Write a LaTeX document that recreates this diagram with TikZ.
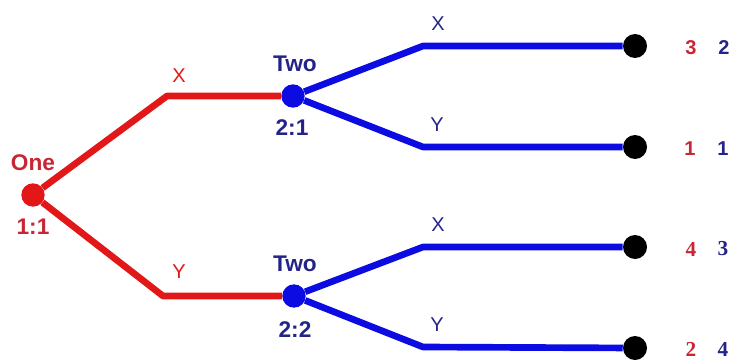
\documentclass[tikz,border=0pt]{standalone}
\usepackage{fontspec}
\setmainfont{Liberation Sans}
\newfontfamily\paynum{Liberation Serif}
\definecolor{oneRed}{RGB}{226,24,24}
\definecolor{oneText}{RGB}{200,38,52}
\definecolor{twoBlue}{RGB}{12,12,226}
\definecolor{twoText}{RGB}{36,36,136}
\begin{document}
\begin{tikzpicture}[x=0.75pt, y=-0.75pt,
  dec/.style={circle, inner sep=0pt, minimum size=17.5pt},
  leaf/.style={circle, fill=black, inner sep=0pt, minimum size=18pt},
  redmove/.style={draw=oneRed, line width=5pt, line join=round},
  bluemove/.style={draw=twoBlue, line width=5pt, line join=round},
  who/.style={font=\fontsize{17}{17}\selectfont\bfseries},
  act/.style={font=\fontsize{15}{15}\selectfont},
  pay/.style={font=\fontsize{15}{15}\selectfont\bfseries},
  paysf/.style={font=\fontsize{16}{16}\selectfont\paynum\bfseries},
]
  \useasboundingbox (0,0) rectangle (734,360);
  % decision nodes
  \node[dec, fill=oneRed] (one) at (33,195) {};
  \node[dec, fill=twoBlue] (twoX) at (293,96) {};
  \node[dec, fill=twoBlue] (twoY) at (294,296) {};
  \node[who, text=oneText] (oneName) at (33,163) {One};
  \node[who, text=oneText] (oneInfo) at (33,227) {1:1};
  \node[who, text=twoText] (twoXName) at (295,64) {Two};
  \node[who, text=twoText] (twoXInfo) at (292,128) {2:1};
  \node[who, text=twoText] (twoYName) at (295,264) {Two};
  \node[who, text=twoText] (twoYInfo) at (295,330) {2:2};
  % end points
  \node[leaf] (endXX) at (635,46) {};
  \node[leaf] (endXY) at (635,147) {};
  \node[leaf] (endYX) at (635,247) {};
  \node[leaf] (endYY) at (635,348) {};
  \coordinate (bendX) at (167,96);
  \coordinate (bendY) at (163,296);
  \coordinate (bendXX) at (423,46);
  \coordinate (bendXY) at (423,147);
  \coordinate (bendYX) at (423,247);
  \coordinate (bendYY) at (423,347);
  % moves of player one
  \draw[redmove] (one) -- (bendX) -- (twoX);
  \draw[redmove] (one) -- (bendY) -- (twoY);
  \node[act, text=oneRed] (actX) at (179,76) {X};
  \node[act, text=oneRed] (actY) at (179,272) {Y};
  % moves of player two
  \draw[bluemove] (twoX) -- (bendXX) -- (endXX);
  \draw[bluemove] (twoX) -- (bendXY) -- (endXY);
  \draw[bluemove] (twoY) -- (bendYX) -- (endYX);
  \draw[bluemove] (twoY) -- (bendYY) -- (endYY);
  \node[act, text=twoText] (actXX) at (438,24) {X};
  \node[act, text=twoText] (actXY) at (437,125) {Y};
  \node[act, text=twoText] (actYX) at (438,225) {X};
  \node[act, text=twoText] (actYY) at (437,325) {Y};
  % payoffs
  \node[pay, text=oneText] (payXX1) at (691,48) {3};
  \node[pay, text=twoText] (payXX2) at (724,48) {2};
  \node[pay, text=oneText] (payXY1) at (690,149) {1};
  \node[pay, text=twoText] (payXY2) at (723,149) {1};
  \node[paysf, text=oneText] (payYX1) at (691,249) {4};
  \node[paysf, text=twoText] (payYX2) at (723,249) {3};
  \node[paysf, text=oneText] (payYY1) at (691,349) {2};
  \node[paysf, text=twoText] (payYY2) at (723,349) {4};
\end{tikzpicture}
\end{document}
